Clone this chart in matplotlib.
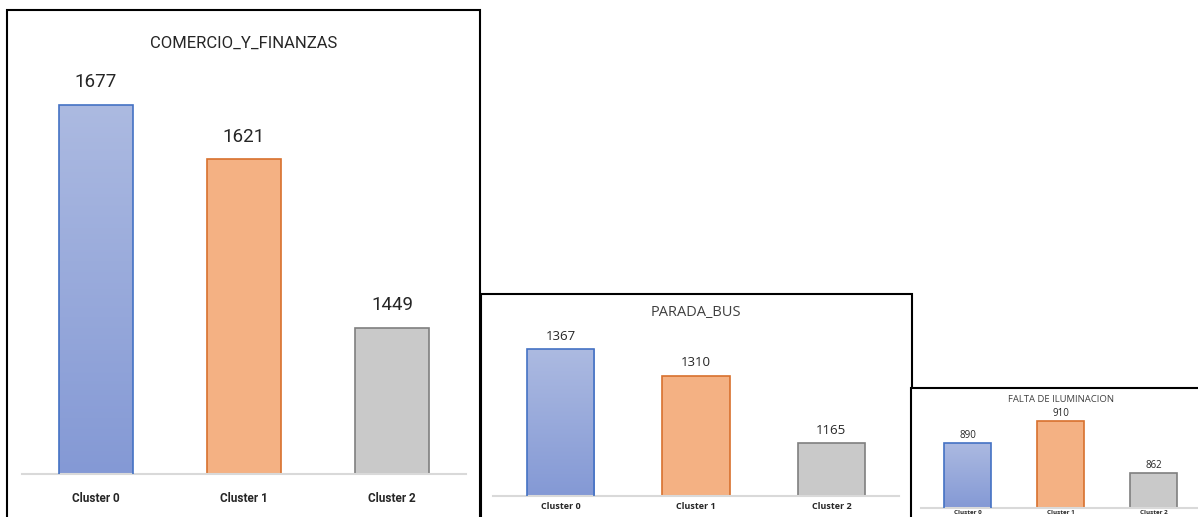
import numpy as np
import matplotlib
matplotlib.use("Agg")
import matplotlib.pyplot as plt
from matplotlib.patches import Rectangle
from matplotlib.colors import LinearSegmentedColormap

W, H = 1198, 517

clusters = ["Cluster 0", "Cluster 1", "Cluster 2"]

comercio_title = "COMERCIO_Y_FINANZAS"
comercio_values = [1677, 1621, 1449]

parada_title = "PARADA_BUS"
parada_values = [1367, 1310, 1165]

iluminacion_title = "FALTA DE ILUMINACION"
iluminacion_values = [890, 910, 862]

face_colors = ["#A4B3DE", "#F4B183", "#C9C9C9"]
edge_colors = ["#4472C4", "#D8712E", "#7F7F7F"]
blue_grad = LinearSegmentedColormap.from_list("blue_grad", ["#8499D5", "#ACBAE1"])


def px_rect(left, top, right, bottom):
    """pixel box (y from top) -> figure fraction [x, y, w, h]"""
    return [left / W, 1 - bottom / H, (right - left) / W, (bottom - top) / H]


def draw_frame(fig, left, top, right, bottom):
    x, y, w, h = px_rect(left, top, right, bottom)
    fig.add_artist(Rectangle((x, y), w, h, transform=fig.transFigure,
                             facecolor="white", edgecolor="black", lw=1.5, zorder=0))


def draw_panel(fig, box, title, title_y, values, ylim, title_font, value_font,
               tick_font, label_pad, tick_pad):
    ax = fig.add_axes(px_rect(*box))
    ax.patch.set_alpha(0)
    x = np.arange(len(values))
    bars = ax.bar(x, values, width=0.5, color=face_colors, edgecolor=edge_colors,
                  linewidth=1.2, zorder=2)
    # vertical gradient on the first bar
    b = bars[0]
    grad = np.linspace(0, 1, 256).reshape(-1, 1)
    img = ax.imshow(grad, cmap=blue_grad, origin="lower", aspect="auto",
                    extent=[b.get_x(), b.get_x() + b.get_width(), ylim[0], b.get_height()],
                    zorder=2.5)
    img.set_clip_path(b)
    b.set_facecolor("none")
    b.set_zorder(3)

    for bar, v in zip(bars, values):
        ax.annotate(f"{v}", (bar.get_x() + bar.get_width() / 2, v),
                    xytext=(0, label_pad), textcoords="offset points",
                    ha="center", va="bottom", **value_font)

    ax.set_xlim(-0.5, len(values) - 0.5)
    ax.set_ylim(*ylim)
    ax.set_xticks(x)
    ax.set_xticklabels(clusters, **tick_font)
    ax.tick_params(axis="x", length=0, pad=tick_pad)
    ax.set_yticks([])
    for s in ["left", "right", "top"]:
        ax.spines[s].set_visible(False)
    ax.spines["bottom"].set_color("#D9D9D9")
    ax.spines["bottom"].set_linewidth(1.5)
    cx = (box[0] + box[2]) / 2 / W
    fig.text(cx, 1 - title_y / H, title, ha="center", va="center", **title_font)
    return ax


fig = plt.figure(figsize=(W / 100, H / 100), dpi=100)

draw_frame(fig, 7, 10, 480, 530)
draw_frame(fig, 481, 294, 912, 530)
draw_frame(fig, 911, 388, 1210, 530)

narrow = ["Roboto", "DejaVu Sans"]
plain = ["Open Sans", "DejaVu Sans"]

draw_panel(fig, (22, 82, 466, 474), comercio_title, 43, comercio_values, (1300, 1700),
           dict(family=narrow, fontsize=12, color="#262626"),
           dict(family=narrow, fontsize=13.5, color="#262626"),
           dict(family=narrow, fontsize=8.5, fontweight="bold", color="#262626"),
           10, 13)

draw_panel(fig, (493, 334, 899, 496), parada_title, 312, parada_values, (1050, 1400),
           dict(family=plain, fontsize=10.5, color="#404040"),
           dict(family=plain, fontsize=9.5, color="#262626"),
           dict(family=plain, fontsize=6.5, fontweight="bold", color="#262626"),
           4.5, 4.5)

draw_panel(fig, (921, 399, 1200, 508), iluminacion_title, 400, iluminacion_values, (830, 930),
           dict(family=plain, fontsize=6.8, color="#404040"),
           dict(family=plain, fontsize=7, color="#262626"),
           dict(family=plain, fontsize=4.5, fontweight="bold", color="#262626"),
           1.5, 1.5)

fig.savefig("out.png", dpi=100)
